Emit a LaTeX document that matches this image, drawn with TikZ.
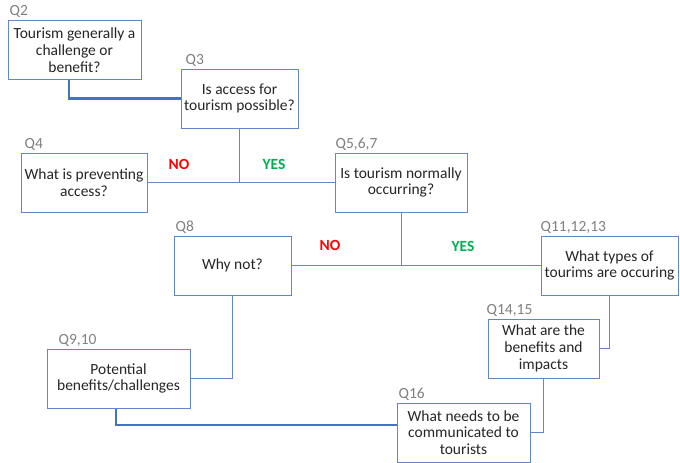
\documentclass[tikz,border=0pt]{standalone}
\usepackage{fontspec}
\setmainfont{Carlito}
\definecolor{lineblue}{RGB}{68,114,196}
\definecolor{qgray}{RGB}{128,128,128}
\definecolor{yesgreen}{RGB}{0,176,80}

\begin{document}
\begin{tikzpicture}[x=1pt, y=-1pt,
    qbox/.style={draw=lineblue!85, line width=1pt, fill=white, align=center,
      inner sep=0pt, minimum height=59pt, text=black!85,
      font=\fontsize{15.5}{16.8}\selectfont},
    qlabel/.style={anchor=south west, inner sep=0pt, text=qgray,
      font=\fontsize{15.5}{17}\selectfont, yshift=2pt},
    thin link/.style={draw=lineblue!85, line width=1pt},
    thick link/.style={draw=lineblue, line width=2.5pt},
    no/.style={text=red, font=\bfseries\fontsize{15.5}{17}\selectfont},
    yes/.style={text=yesgreen, font=\bfseries\fontsize{15.5}{17}\selectfont}]
        \useasboundingbox (0,0) rectangle (680,463);
        \node[qbox, minimum width=133pt, label={[qlabel,xshift=2pt]north west:Q2}] (Q2) at (74.5,50) {Tourism generally a\\challenge or\\benefit?};
        \node[qbox, minimum width=117pt, label={[qlabel,xshift=5pt]north west:Q3}] (Q3) at (239.5,98.5) {Is access for\\tourism possible?};
        \node[qbox, minimum width=126pt, label={[qlabel,xshift=4pt]north west:Q4}] (Q4) at (84,182.5) {What is preventing\\access?};
        \node[qbox, minimum width=132pt, label={[qlabel,xshift=1pt]north west:Q5,6,7}] (Q5) at (401,182.5) {Is tourism normally\\occurring?};
        \node[qbox, minimum width=117pt, label={[qlabel,xshift=2pt]north west:Q8}] (Q8) at (232.5,265.5) {Why not?};
        \node[qbox, minimum width=137pt, label={[qlabel,xshift=0pt]north west:Q11,12,13}] (Q11) at (609.5,265.5) {What types of\\tourims are occuring};
        \node[qbox, minimum width=111pt, label={[qlabel,xshift=-1pt]north west:Q14,15}] (Q14) at (543.5,348.5) {What are the\\benefits and\\impacts};
        \node[qbox, minimum width=143pt, label={[qlabel,xshift=12pt]north west:Q9,10}] (Q9) at (118.5,378.5) {Potential\\benefits/challenges};
        \node[qbox, minimum width=133pt, label={[qlabel,xshift=2pt]north west:Q16}] (Q16) at (463.5,432.5) {What needs to be\\communicated to\\tourists};

        \draw[thick link] ([xshift=-5.5pt]Q2.south) |- (Q3.west);
        \draw[thin link] (Q4.east) -- (Q5.west);
        \draw[thin link] (Q3.south) -- (Q3.south |- Q4.east);
        \draw[thin link] (Q8.east) -- (Q11.west);
        \draw[thin link] (Q5.south) -- (Q5.south |- Q8.east);
        \draw[thin link] (Q11.south) |- (Q14.east);
        \draw[thin link] (Q14.south) |- (Q16.east);
        \draw[thin link] (Q8.south) |- (Q9.east);
        \draw[thick link] ([xshift=-2.5pt]Q9.south) |- ([yshift=7.5pt]Q16.west);

        \node[no] (no1) at (179,164) {NO};
        \node[yes] (yes1) at (274,164) {YES};
        \node[no] (no2) at (330,245) {NO};
        \node[yes] (yes2) at (463,246) {YES};
      \end{tikzpicture}
\end{document}
